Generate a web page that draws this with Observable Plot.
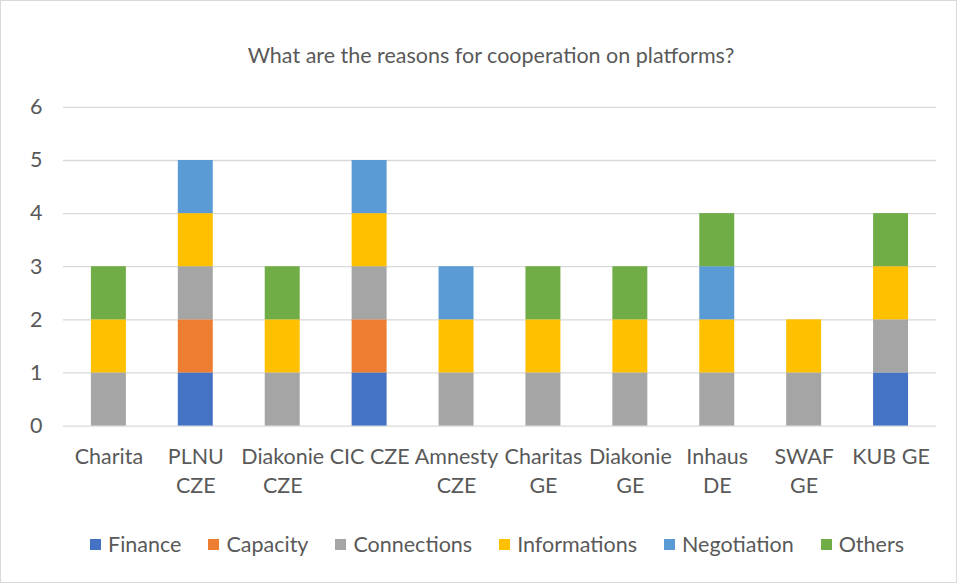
<!DOCTYPE html>
<html>
<head>
<meta charset="utf-8">
<script src="https://cdn.jsdelivr.net/npm/d3@7"></script>
<script src="https://cdn.jsdelivr.net/npm/@observablehq/plot@0.6"></script>
<style>
  body { margin: 0; background: #fff; }
  #wrap { position: relative; width: 957px; height: 583px; box-sizing: border-box; border: 1px solid #d9d9d9; background: #fff; font-family: Lato, "Open Sans", sans-serif; color: #595959; overflow: hidden; }
  #title { position: absolute; top: 41px; left: 0; width: 980px; text-align: center; font-size: 21.5px; color: #595959; }
  #chart { position: absolute; left: -1px; top: -1px; }
  #legend { position: absolute; top: 530px; left: 0; width: 992px; display: flex; justify-content: center; font-size: 21.5px; color: #595959; }
  .item { display: flex; align-items: center; margin-right: 27px; }
  .item:last-child { margin-right: 0; }
  .sw { width: 11px; height: 11px; margin-right: 7px; }
</style>
</head>
<body>
<div id="wrap">
  <div id="title">What are the reasons for cooperation on platforms?</div>
  <div id="chart"></div>
  <div id="legend"></div>
</div>
<script>
const categories = ["Charita", "PLNU CZE", "Diakonie CZE", "CIC CZE", "Amnesty CZE", "Charitas GE", "Diakonie GE", "Inhaus DE", "SWAF GE", "KUB GE"];
const tickLabels = ["Charita", "PLNU\nCZE", "Diakonie\nCZE", "CIC CZE", "Amnesty\nCZE", "Charitas\nGE", "Diakonie\nGE", "Inhaus\nDE", "SWAF\nGE", "KUB GE"];
const seriesNames = ["Finance", "Capacity", "Connections", "Informations", "Negotiation", "Others"];
const seriesColors = ["#4472C4", "#ED7D31", "#A5A5A5", "#FFC000", "#5B9BD5", "#70AD47"];
const finance      = [0, 1, 0, 1, 0, 0, 0, 0, 0, 1];
const capacity     = [0, 1, 0, 1, 0, 0, 0, 0, 0, 0];
const connections  = [1, 1, 1, 1, 1, 1, 1, 1, 1, 1];
const informations = [1, 1, 1, 1, 1, 1, 1, 1, 1, 1];
const negotiation  = [0, 1, 0, 1, 1, 0, 0, 1, 0, 0];
const others       = [1, 0, 1, 0, 0, 1, 1, 1, 0, 1];
const yTicks = [0, 1, 2, 3, 4, 5, 6];

const seriesValues = [finance, capacity, connections, informations, negotiation, others];
const data = [];
seriesNames.forEach((s, si) => {
  categories.forEach((c, ci) => {
    const v = seriesValues[si][ci];
    if (v > 0) data.push({category: c, series: s, value: v});
  });
});
const labelOf = new Map(categories.map((c, i) => [c, tickLabels[i]]));

const chart = Plot.plot({
  width: 957,
  height: 583,
  marginTop: 107,
  marginBottom: 157,
  marginLeft: 63,
  marginRight: 20,
  style: {fontFamily: "Lato, 'Open Sans', sans-serif", fontSize: "21.5px", color: "#595959", background: "transparent"},
  x: {domain: categories, paddingInner: 0.6, paddingOuter: 0.3, label: null},
  y: {domain: [0, 6], label: null},
  color: {domain: seriesNames, range: seriesColors},
  marks: [
    Plot.ruleY(yTicks, {stroke: "#d9d9d9", strokeWidth: 1.3}),
    Plot.barY(data, Plot.stackY({x: "category", y: "value", fill: "series", order: seriesNames})),
    Plot.axisY({ticks: yTicks, tickSize: 0, tickPadding: 21, label: null, fontSize: 21.5, fill: "#595959", tickFormat: d => String(d)}),
    Plot.axisX({tickSize: 0, tickPadding: 17, label: null, fontSize: 21.5, fill: "#595959", lineHeight: 1.35, tickFormat: d => labelOf.get(d)})
  ]
});
document.getElementById("chart").appendChild(chart);

const legend = document.getElementById("legend");
seriesNames.forEach((s, i) => {
  const item = document.createElement("div");
  item.className = "item";
  const sw = document.createElement("div");
  sw.className = "sw";
  sw.style.background = seriesColors[i];
  const t = document.createElement("span");
  t.textContent = s;
  item.appendChild(sw);
  item.appendChild(t);
  legend.appendChild(item);
});
</script>
</body>
</html>
